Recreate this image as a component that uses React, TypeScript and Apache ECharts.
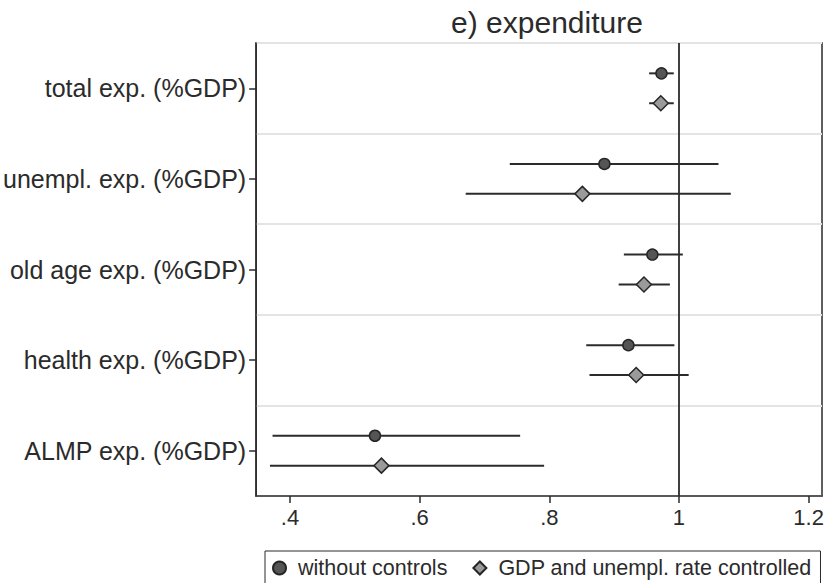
import React, { useEffect, useRef } from "react";
import * as echarts from "echarts";

// Coefficient plot: point estimates with confidence intervals per expenditure type
const categories = [
  "total exp. (%GDP)",
  "unempl. exp. (%GDP)",
  "old age exp. (%GDP)",
  "health exp. (%GDP)",
  "ALMP exp. (%GDP)",
];

const seriesNames = ["without controls", "GDP and unempl. rate controlled"];

// without controls
const estNoCtrl = [0.973, 0.885, 0.959, 0.922, 0.531];
const loNoCtrl = [0.954, 0.739, 0.915, 0.857, 0.373];
const hiNoCtrl = [0.992, 1.061, 1.006, 0.993, 0.755];

// GDP and unemployment rate controlled
const estCtrl = [0.972, 0.851, 0.946, 0.934, 0.541];
const loCtrl = [0.954, 0.671, 0.907, 0.862, 0.369];
const hiCtrl = [0.992, 1.08, 0.986, 1.015, 0.792];

const xTickValues = [0.4, 0.6, 0.8, 1, 1.2];
const xTickLabels = [".4", ".6", ".8", "1", "1.2"];
const referenceValue = 1;

const FONT = "'Liberation Sans', Arial, Helvetica, sans-serif";
const INK = "#2b2b2b";
const ROW_OFFSET = 0.165;

function intervalData(lo: number[], hi: number[], shift: number) {
  return categories.map((_, i) => [i + 1 + shift, lo[i], hi[i]]);
}

function pointData(est: number[], shift: number) {
  return categories.map((_, i) => [est[i], i + 1 + shift]);
}

function renderInterval(params: any, api: any) {
  const y = api.value(0);
  const p1 = api.coord([api.value(1), y]);
  const p2 = api.coord([api.value(2), y]);
  return {
    type: "line",
    shape: { x1: p1[0], y1: p1[1], x2: p2[0], y2: p2[1] },
    style: { stroke: INK, lineWidth: 2 },
  };
}

export default function App() {
  const ref = useRef<HTMLDivElement>(null);

  useEffect(() => {
    if (!ref.current) return;
    const chart = echarts.init(ref.current, undefined, { renderer: "svg" });
    chart.setOption({
      animation: false,
      backgroundColor: "#ffffff",
      textStyle: { fontFamily: FONT, color: INK },
      title: {
        text: "e) expenditure",
        left: 542,
        textAlign: "center",
        top: 2,
        textStyle: { fontFamily: FONT, fontSize: 30, fontWeight: "normal", color: INK },
      },
      grid: {
        left: 256,
        right: 8,
        top: 43,
        bottom: 87,
        show: true,
        borderColor: INK,
        borderWidth: 1.5,
        backgroundColor: "transparent",
      },
      legend: {
        left: 265,
        top: 551,
        padding: [6, 9, 8, 7],
        borderColor: INK,
        borderWidth: 1,
        itemWidth: 13,
        itemHeight: 13,
        itemGap: 25,
        data: seriesNames,
        textStyle: { fontFamily: FONT, fontSize: 21.5, color: INK, padding: [0, 0, 0, 7] },
      },
      xAxis: {
        type: "value",
        min: 0.3477,
        max: 1.2207,
        axisLine: { show: true, lineStyle: { color: INK, width: 1.5 } },
        axisTick: {
          show: true,
          length: 7,
          customValues: xTickValues,
          lineStyle: { color: INK, width: 1.5 },
        },
        axisLabel: {
          customValues: xTickValues,
          formatter: (v: number) => xTickLabels[xTickValues.findIndex((t) => Math.abs(t - v) < 1e-6)] ?? "",
          fontFamily: FONT,
          fontSize: 22,
          color: INK,
          margin: 10,
        },
        splitLine: { show: false },
      },
      yAxis: [
        {
          type: "category",
          data: categories,
          inverse: true,
          boundaryGap: true,
          axisLine: { show: true, lineStyle: { color: INK, width: 1.5 } },
          axisTick: { show: true, alignWithLabel: true, length: 7, lineStyle: { color: INK, width: 1.5 } },
          axisLabel: { fontFamily: FONT, fontSize: 25, color: INK, margin: 10 },
          splitLine: { show: true, lineStyle: { color: "#e4e4e4", width: 2 } },
        },
        {
          type: "value",
          min: 0.5,
          max: 5.5,
          inverse: true,
          show: false,
          splitLine: { show: false },
        },
      ],
      series: [
        {
          type: "custom",
          name: "ci-no-controls",
          xAxisIndex: 0,
          yAxisIndex: 1,
          renderItem: renderInterval,
          encode: { x: [1, 2], y: 0 },
          data: intervalData(loNoCtrl, hiNoCtrl, -ROW_OFFSET),
          z: 3,
        },
        {
          type: "custom",
          name: "ci-controls",
          xAxisIndex: 0,
          yAxisIndex: 1,
          renderItem: renderInterval,
          encode: { x: [1, 2], y: 0 },
          data: intervalData(loCtrl, hiCtrl, ROW_OFFSET),
          z: 3,
        },
        {
          type: "scatter",
          name: seriesNames[0],
          xAxisIndex: 0,
          yAxisIndex: 1,
          symbol: "circle",
          symbolSize: 11,
          itemStyle: { color: "#555555", borderColor: "#262626", borderWidth: 1.5, opacity: 1 },
          data: pointData(estNoCtrl, -ROW_OFFSET),
          z: 5,
          markLine: {
            silent: true,
            symbol: "none",
            label: { show: false },
            lineStyle: { color: INK, width: 1.8, type: "solid" },
            data: [{ xAxis: referenceValue }],
          },
        },
        {
          type: "scatter",
          name: seriesNames[1],
          xAxisIndex: 0,
          yAxisIndex: 1,
          symbol: "diamond",
          symbolSize: [15, 15],
          itemStyle: { color: "#9a9a9a", borderColor: "#262626", borderWidth: 1.5, opacity: 1 },
          data: pointData(estCtrl, ROW_OFFSET),
          z: 5,
        },
      ],
    });
    return () => chart.dispose();
  }, []);

  return (
    <div
      ref={ref}
      style={{ position: "fixed", left: 0, top: 0, width: 830, height: 583, background: "#fff" }}
    />
  );
}
